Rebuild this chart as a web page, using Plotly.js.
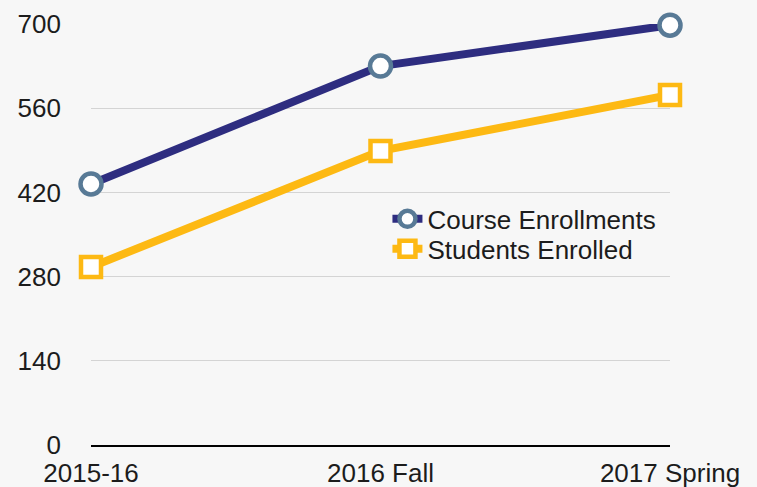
<!DOCTYPE html>
<html>
<head>
<meta charset="utf-8">
<script src="https://cdn.plot.ly/plotly-3.0.1.min.js"></script>
<style>html,body{margin:0;padding:0;background:#f7f7f7;}#chart{width:757px;height:487px;}</style>
</head>
<body>
<div id="chart"></div>
<script>
const categories = ["2015-16", "2016 Fall", "2017 Spring"];
const courseEnrollments = [434, 630, 698];
const studentsEnrolled = [296, 489, 582];
const yTicks = [0, 140, 280, 420, 560, 700];

const traces = [
  {
    x: categories, y: courseEnrollments, name: "Course Enrollments",
    type: "scatter", mode: "lines+markers", cliponaxis: false, legend: "legend",
    line: {color: "#2e2d80", width: 8},
    marker: {symbol: "circle", size: 21, color: "#ffffff", line: {color: "#587a96", width: 4.5}}
  },
  {
    x: categories, y: studentsEnrolled, name: "Students Enrolled",
    type: "scatter", mode: "lines+markers", cliponaxis: false, legend: "legend2",
    line: {color: "#fdb913", width: 8},
    marker: {symbol: "square", size: 20, color: "#ffffff", line: {color: "#fdb913", width: 4.5}}
  }
];

const legendBase = {xanchor: "left", yanchor: "middle", bgcolor: "rgba(0,0,0,0)",
                    font: {size: 26, color: "#1c1c1c"}, itemwidth: 30};

const layout = {
  width: 757, height: 487,
  margin: {l: 91, r: 87, t: 24, b: 42},
  paper_bgcolor: "#f7f7f7", plot_bgcolor: "#f7f7f7",
  font: {family: "Liberation Sans, Arial, sans-serif", size: 26, color: "#1c1c1c"},
  showlegend: true,
  legend: Object.assign({x: 0.512, y: 0.537}, legendBase),
  legend2: Object.assign({x: 0.512, y: 0.466}, legendBase),
  xaxis: {type: "category", range: [0, 2], showgrid: false, zeroline: false,
          showline: true, linecolor: "#000000", linewidth: 2, ticks: "", ticklabelstandoff: 4},
  yaxis: {range: [0, 700], tickvals: yTicks, showgrid: true, gridcolor: "#d4d4d4", gridwidth: 1,
          zeroline: false, showline: false, ticks: "", ticklabelstandoff: 29}
};

Plotly.newPlot("chart", traces, layout, {staticPlot: true});
</script>
</body>
</html>
